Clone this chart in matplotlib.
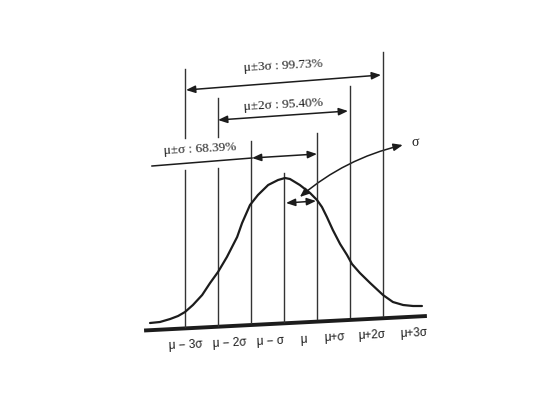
import numpy as np
import matplotlib
matplotlib.use('Agg')
import matplotlib.pyplot as plt
from matplotlib.patches import FancyArrowPatch

# x in sigma units (mu = 0), y as height
curve_x = [-4.06, -3.76, -3.45, -3.21, -3.0, -2.76, -2.48, -2.24, -2.0, -1.73, -1.42,
           -1.27, -1.03, -0.79, -0.48, -0.18, 0.03, 0.18, 0.48, 0.79, 1.0, 1.15,
           1.3, 1.48, 1.7, 1.91, 2.06, 2.3, 2.61, 3.0, 3.3, 3.61, 3.91, 4.18]
curve_y = [70, 71, 74, 77, 81, 88, 98, 110, 121, 136, 156,
           170, 188, 198, 208, 213, 215, 214, 208, 200, 193, 186,
           176, 163, 149, 138, 129, 120, 110, 98, 91, 88, 87, 87]

sigma_steps = [-3, -2, -1, 0, 1, 2, 3]
line_tops = [324, 295, 252, 220, 260, 307, 341]
line_bottoms = [66, 67, 70, 71, 74, 76, 77]
# the two left lines break where the 68% label crosses them
line_gaps = {-3: (223, 255), -2: (225, 256)}

base_x = [-4.24, 4.33]
base_y = [62.5, 77]

tick_labels = ['μ − 3σ', 'μ − 2σ', 'μ − σ', 'μ', 'μ+σ', 'μ+2σ', 'μ+3σ']
tick_label_x = [-2.97, -1.64, -0.42, 0.58, 1.52, 2.67, 3.94]
tick_label_y = [48, 50, 52, 53, 55, 58, 60]

# coverage arrows: (x0, y0, x1, y1), labels
cover_labels = ['μ±3σ : 99.73%', 'μ±2σ : 95.40%', 'μ±σ : 68.39%']
cover_arrows = [(-2.97, 303, 2.94, 318), (-2.0, 273, 1.94, 282), (-0.97, 235, 1.0, 239)]
cover_label_pos = [(-0.03, 327), (-0.03, 288), (-2.55, 244)]

fig = plt.figure(figsize=(5.41, 3.93), dpi=100)
ax = fig.add_axes([0, 0, 1, 1])
ax.set_xlim(-284 / 33, 257 / 33)
ax.set_ylim(0, 393)
ax.axis('off')

ink = '#1c1c1c'

# baseline
ax.plot(base_x, base_y, color=ink, lw=2.8, solid_capstyle='butt')

# sigma lines
for x, y0, y1 in zip(sigma_steps, line_bottoms, line_tops):
    if x in line_gaps:
        g0, g1 = line_gaps[x]
        ax.plot([x, x], [y0, g0], color='#333333', lw=1.0)
        ax.plot([x, x], [g1, y1], color='#333333', lw=1.0)
    else:
        ax.plot([x, x], [y0, y1], color='#333333', lw=1.0)

# bell curve
ax.plot(curve_x, curve_y, color=ink, lw=1.6, solid_joinstyle='round', solid_capstyle='round')


def arrow(x0, y0, x1, y1, style='<|-|>', rad=0.0):
    a = FancyArrowPatch((x0, y0), (x1, y1), arrowstyle=style + ',head_length=0.55,head_width=0.22',
                        mutation_scale=10, color=ink, lw=1.1, shrinkA=0, shrinkB=0,
                        connectionstyle=f'arc3,rad={rad}')
    ax.add_patch(a)


for (x0, y0, x1, y1) in cover_arrows:
    arrow(x0, y0, x1, y1)

# leader line under the 1 sigma label
ax.plot([-4.0, -0.97], [227, 235], color=ink, lw=1.1)

serif = ['Liberation Serif', 'DejaVu Serif']
sans = ['Liberation Sans', 'DejaVu Sans']
for lab, (x, y) in zip(cover_labels, cover_label_pos):
    ax.text(x, y, lab, ha='center', va='center', fontsize=9.5, family=serif, rotation=3, color=ink)

# sigma width arrow and pointer
arrow(0.06, 190, 0.97, 192)
arrow(3.6, 248, 0.48, 196, style='<|-|>', rad=0.12)
ax.text(3.85, 250, 'σ', ha='left', va='center', fontsize=10, family=serif, color=ink)

for lab, x, y in zip(tick_labels, tick_label_x, tick_label_y):
    ax.text(x, y, lab, ha='center', va='center', fontsize=8.5, family=sans, rotation=2.5, color=ink)

fig.savefig('out.png', dpi=100, facecolor='white')
